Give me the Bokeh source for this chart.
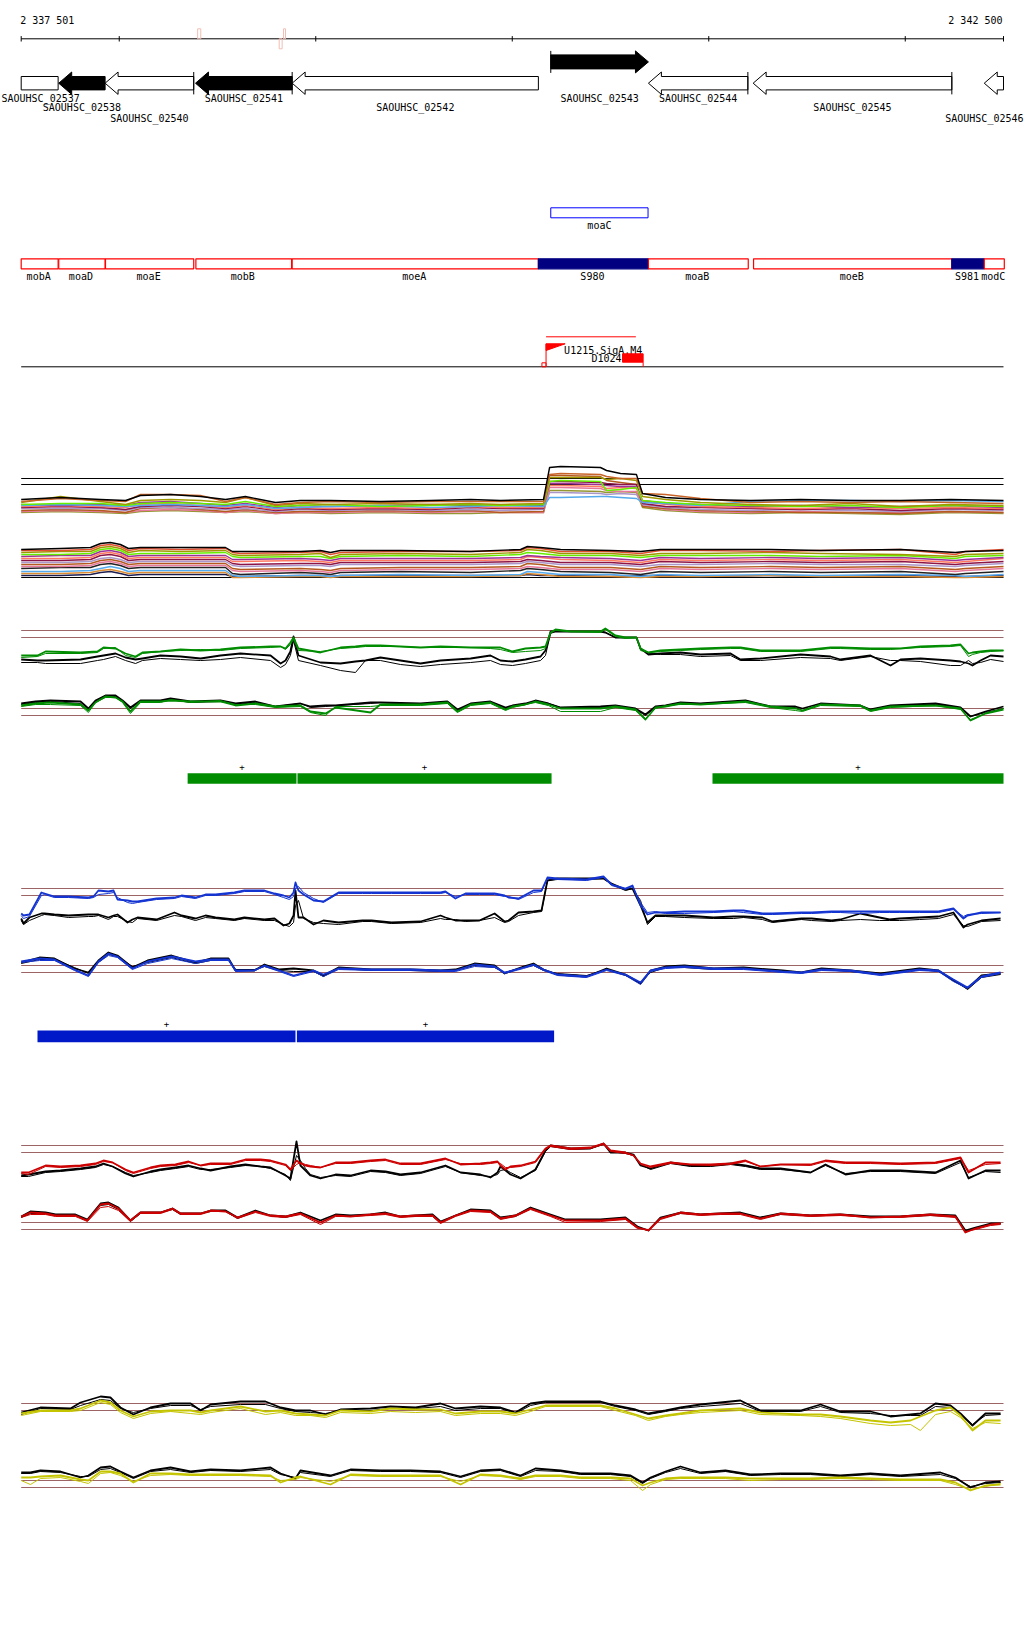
from bokeh.plotting import figure
from bokeh.models import Range1d
from bokeh.core.properties import value
from bokeh.embed import file_html
from bokeh.resources import INLINE

# ------------------------------------------------------------------ data
WINDOW_START = 2337501
WINDOW_END = 2342500
# positions below are bp offsets from WINDOW_START
ruler_ticks = [0, 499, 1499, 2499, 3499, 4499, 4999]
mark_start = [898, 1313, 1335]
mark_end = [914, 1328, 1345]
mark_side = [0, 1, 0]

gene_names = ["SAOUHSC_02537", "SAOUHSC_02538", "SAOUHSC_02540", "SAOUHSC_02541",
              "SAOUHSC_02542", "SAOUHSC_02543", "SAOUHSC_02544", "SAOUHSC_02545",
              "SAOUHSC_02546"]
gene_start = [0, 191, 427, 887, 1379, 2695, 3192, 3725, 4901]
gene_end = [188, 427, 878, 1379, 2632, 3192, 3698, 4736, 4999]
gene_strand = ["?", "-", "-", "-", "-", "+", "-", "-", "-"]
gene_filled = [0, 1, 0, 1, 0, 1, 0, 0, 0]
gene_tail_tick = [0, 0, 1, 1, 0, 1, 1, 1, 0]
gene_label_row = [0, 1, 2, 0, 1, 0, 0, 1, 2]

alt_names = ["moaC"]
alt_start = [2695]
alt_end = [3190]

tu_names = ["mobA", "moaD", "moaE", "mobB", "moeA", "S980", "moaB", "moeB", "S981", "modC"]
tu_start = [0, 191, 429, 889, 1379, 2632, 3192, 3727, 4736, 4901]
tu_end = [188, 427, 878, 1376, 2632, 3192, 3700, 4736, 4901, 5003]
tu_kind = ["gene", "gene", "gene", "gene", "gene", "srna", "gene", "gene", "srna", "gene"]

tss_names = ["U1215.SigA.M4"]
tss_pos = [2671]
tss_span_end = [3128]
term_names = ["D1024"]
term_start = [3060]
term_end = [3165]

green_seg_start = [847, 1406, 3518]
green_seg_end = [1401, 2699, 4999]
green_seg_strand = ["+", "+", "+"]
blue_seg_start = [83, 1403]
blue_seg_end = [1396, 2712]
blue_seg_strand = ["+", "+"]

# ---- multi-condition track (upper / lower panel)
mu_pos = [0, 200, 404, 531, 607, 760, 913, 1040, 1141, 1294, 1421, 1574, 1828, 2083, 2287, 2439,
          2658, 2689, 2745, 2948, 2979, 3050, 3131, 3162, 3279, 3457, 3711, 3966, 4220, 4475, 4729, 4999]
mu_l0 = [2.1, 2.3, 2.1, 2.0, 2.5, 2.6, 2.4, 2.1, 2.4, 1.8, 2.0, 2.0, 1.9, 2.0, 2.1, 2.0, 2.1, 5.3, 5.4, 5.3, 5.0, 4.7, 4.6, 2.7, 2.3, 2.1, 2.0, 2.1, 2.0, 2.0, 2.1, 2.0]
mu_l1 = [1.9, 2.2, 2.0, 1.9, 2.6, 2.6, 2.5, 1.9, 2.3, 1.6, 1.8, 1.9, 1.8, 1.9, 1.9, 1.9, 1.9, 4.6, 4.7, 4.6, 4.4, 4.2, 4.2, 2.7, 2.6, 2.2, 1.8, 1.9, 1.8, 1.9, 1.8, 1.7]
mu_l2 = [1.8, 2.4, 1.9, 1.6, 2.0, 2.1, 2.0, 1.8, 2.3, 1.5, 1.7, 1.6, 1.7, 1.6, 1.7, 1.6, 1.7, 4.3, 4.3, 4.3, 4.1, 4.2, 4.0, 2.4, 2.1, 1.8, 1.6, 1.5, 1.7, 1.4, 1.6, 1.5]
mu_l3 = [1.6, 1.7, 1.7, 1.5, 1.7, 1.8, 1.7, 1.6, 1.9, 1.4, 1.5, 1.6, 1.4, 1.5, 1.6, 1.5, 1.6, 3.9, 4.0, 3.9, 3.0, 3.1, 3.3, 2.0, 1.8, 1.6, 1.5, 1.4, 1.5, 1.3, 1.5, 1.4]
mu_l4 = [1.5, 1.6, 1.5, 1.4, 1.5, 1.6, 1.5, 1.4, 1.6, 1.2, 1.3, 1.4, 1.5, 1.3, 1.4, 1.5, 1.4, 2.3, 2.3, 2.4, 2.4, 2.3, 2.2, 1.8, 1.7, 1.5, 1.9, 2.0, 2.0, 1.9, 2.0, 1.9]
mu_l5 = [1.6, 1.5, 1.6, 1.5, 1.8, 1.9, 1.7, 1.5, 1.7, 1.3, 1.5, 1.4, 1.5, 1.6, 1.5, 1.5, 1.5, 3.7, 3.7, 3.6, 3.5, 3.4, 3.4, 2.0, 1.7, 1.6, 1.4, 1.5, 1.3, 1.4, 1.5, 1.3]
mu_l6 = [1.4, 1.5, 1.4, 1.3, 1.6, 1.7, 1.5, 1.3, 1.5, 1.1, 1.3, 1.2, 1.3, 1.2, 1.4, 1.3, 1.3, 3.5, 3.5, 3.4, 3.2, 3.3, 3.2, 1.9, 1.6, 1.4, 1.3, 1.2, 1.3, 1.2, 1.3, 1.2]
mu_l7 = [1.3, 1.4, 1.3, 1.1, 1.4, 1.5, 1.4, 1.2, 1.4, 1.0, 1.2, 1.1, 1.2, 1.1, 1.3, 1.2, 1.2, 3.9, 3.9, 3.8, 3.7, 3.6, 3.6, 1.7, 1.4, 1.3, 1.2, 1.1, 1.2, 1.0, 1.2, 1.1]
mu_l8 = [1.2, 1.2, 1.2, 1.0, 1.3, 1.3, 1.2, 1.1, 1.2, 0.9, 1.1, 1.0, 1.1, 1.0, 1.1, 1.0, 1.1, 2.8, 2.8, 2.7, 2.6, 2.7, 2.6, 1.6, 1.3, 1.1, 1.0, 1.1, 1.0, 0.9, 1.1, 1.0]
mu_l9 = [1.0, 1.1, 1.0, 0.8, 1.2, 1.3, 1.1, 0.9, 1.1, 0.8, 0.9, 0.9, 1.0, 0.9, 1.0, 0.8, 0.9, 4.5, 4.5, 4.4, 4.0, 3.8, 3.6, 1.4, 1.2, 1.0, 0.9, 0.8, 0.8, 0.7, 0.9, 0.8]
mu_l10 = [0.9, 1.0, 0.9, 0.8, 1.0, 1.1, 1.0, 0.8, 1.0, 0.7, 0.8, 0.8, 0.9, 0.8, 0.9, 0.8, 0.8, 3.3, 3.3, 3.2, 3.0, 2.9, 2.9, 1.5, 1.1, 0.9, 0.8, 0.9, 0.8, 0.8, 0.9, 0.8]
mu_l11 = [0.8, 0.9, 0.8, 0.7, 0.9, 1.0, 0.9, 0.8, 0.9, 0.7, 0.8, 0.7, 0.8, 0.7, 0.7, 0.8, 0.8, 3.0, 3.0, 2.9, 2.8, 2.9, 2.8, 1.3, 1.0, 0.8, 0.7, 0.8, 0.7, 0.6, 0.8, 0.7]
mu_thresholds = [4.2, 3.6]

ml_pos = [0, 200, 353, 404, 454, 505, 546, 607, 811, 1040, 1075, 1116, 1421, 1523, 1574, 1625, 1930,
          2287, 2541, 2576, 2643, 2745, 2999, 3152, 3253, 3457, 3813, 4068, 4475, 4754, 4805, 4999]
ml_l0 = [4.1, 4.2, 4.3, 4.7, 4.8, 4.6, 4.2, 4.3, 4.3, 4.3, 3.9, 3.9, 3.9, 4.0, 3.8, 4.0, 4.0, 3.9, 4.1, 4.4, 4.3, 4.1, 4.0, 3.9, 4.1, 4.1, 4.1, 4.0, 4.1, 3.8, 3.9, 4.0]
ml_l1 = [4.0, 4.0, 4.1, 4.5, 4.6, 4.4, 4.0, 4.2, 4.1, 4.2, 3.8, 3.7, 3.8, 3.9, 3.6, 3.8, 3.9, 3.9, 4.0, 4.3, 4.2, 3.9, 3.9, 3.7, 4.0, 4.0, 3.9, 4.0, 4.1, 3.6, 3.9, 4.1]
ml_l2 = [3.8, 3.9, 3.9, 4.3, 4.4, 4.2, 3.8, 4.0, 3.9, 4.0, 3.6, 3.5, 3.6, 3.7, 3.3, 3.6, 3.7, 3.6, 3.8, 4.1, 4.0, 3.7, 3.7, 3.5, 3.7, 3.7, 3.8, 3.7, 3.6, 3.4, 3.6, 3.7]
ml_l3 = [3.6, 3.6, 3.7, 4.1, 4.2, 4.0, 3.6, 3.7, 3.7, 3.8, 3.4, 3.3, 3.4, 3.4, 3.2, 3.4, 3.5, 3.4, 3.6, 3.8, 3.7, 3.5, 3.5, 3.3, 3.5, 3.5, 3.5, 3.4, 3.5, 3.2, 3.4, 3.5]
ml_l4 = [3.4, 3.5, 3.5, 3.9, 4.0, 3.8, 3.4, 3.5, 3.5, 3.5, 3.1, 3.1, 3.2, 3.1, 3.0, 3.2, 3.2, 3.2, 3.3, 3.5, 3.4, 3.3, 3.2, 3.0, 3.3, 3.2, 3.3, 3.2, 3.3, 3.0, 3.1, 3.3]
ml_l5 = [3.2, 3.2, 3.3, 3.7, 3.8, 3.6, 3.2, 3.3, 3.3, 3.3, 2.9, 2.9, 3.0, 2.9, 2.8, 3.0, 3.0, 3.0, 3.1, 3.4, 3.3, 3.1, 3.0, 2.8, 3.1, 3.0, 3.1, 3.0, 3.1, 2.8, 2.9, 3.2]
ml_l6 = [3.0, 3.0, 3.1, 3.5, 3.6, 3.4, 3.0, 3.1, 3.1, 3.1, 2.7, 2.6, 2.7, 2.7, 2.6, 2.8, 2.8, 2.8, 2.9, 3.1, 3.0, 2.8, 2.8, 2.6, 2.9, 2.8, 2.9, 2.8, 2.9, 2.6, 2.7, 2.9]
ml_l7 = [2.8, 2.8, 2.9, 3.2, 3.3, 3.1, 2.8, 2.9, 2.9, 2.9, 2.5, 2.4, 2.5, 2.5, 2.4, 2.6, 2.6, 2.6, 2.7, 2.9, 2.8, 2.6, 2.6, 2.4, 2.6, 2.6, 2.7, 2.6, 2.6, 2.4, 2.5, 2.7]
ml_l8 = [2.6, 2.6, 2.7, 3.0, 3.1, 2.9, 2.6, 2.7, 2.7, 2.7, 2.2, 2.1, 2.2, 2.1, 2.0, 2.2, 2.3, 2.3, 2.4, 2.7, 2.6, 2.3, 2.3, 2.1, 2.4, 2.3, 2.4, 2.3, 2.4, 2.1, 2.2, 2.4]
ml_l9 = [2.4, 2.4, 2.5, 2.8, 2.9, 2.7, 2.4, 2.5, 2.5, 2.5, 2.0, 1.9, 2.0, 1.9, 1.8, 2.0, 2.1, 2.1, 2.2, 2.4, 2.3, 2.1, 2.1, 1.9, 2.2, 2.1, 2.2, 2.1, 2.2, 1.9, 2.0, 2.2]
ml_l10 = [2.2, 2.3, 2.3, 2.6, 2.7, 2.5, 2.2, 2.3, 2.3, 2.3, 1.7, 1.6, 1.8, 1.7, 1.6, 1.8, 1.9, 1.8, 2.0, 2.2, 2.1, 1.9, 1.8, 1.6, 1.9, 1.8, 1.9, 1.8, 1.9, 1.6, 1.7, 1.9]
ml_l11 = [1.9, 1.9, 2.0, 2.2, 2.4, 2.2, 1.9, 2.0, 2.0, 2.0, 1.5, 1.4, 1.5, 1.5, 1.4, 1.5, 1.6, 1.5, 1.6, 1.9, 1.8, 1.6, 1.6, 1.4, 1.6, 1.5, 1.6, 1.5, 1.6, 1.5, 1.4, 1.6]
ml_l12 = [1.7, 1.7, 1.8, 2.0, 2.1, 1.9, 1.7, 1.8, 1.8, 1.8, 1.3, 1.3, 1.4, 1.4, 1.3, 1.4, 1.4, 1.4, 1.5, 1.7, 1.6, 1.4, 1.4, 1.3, 1.4, 1.4, 1.5, 1.4, 1.4, 1.3, 1.3, 1.4]
ml_l13 = [1.5, 1.5, 1.6, 1.8, 1.9, 1.7, 1.5, 1.6, 1.6, 1.6, 1.4, 1.4, 1.5, 1.5, 1.4, 1.5, 1.5, 1.5, 1.5, 1.6, 1.5, 1.5, 1.4, 1.5, 1.5, 1.4, 1.5, 1.4, 1.5, 1.4, 1.4, 1.5]
ml_thresholds = [1.3]

# ---- green track
gu_pos = [0, 83, 124, 302, 388, 419, 480, 531, 582, 617, 709, 811, 913, 1014, 1116, 1269, 1320, 1345, 1370, 1386,
          1411, 1523, 1625, 1701, 1752, 1828, 1930, 2032, 2134, 2287, 2388, 2439, 2500, 2566, 2643, 2668, 2694, 2719, 2796, 2948,
          2973, 3024, 3075, 3131, 3152, 3192, 3253, 3355, 3457, 3610, 3660, 3762, 3966, 4119, 4169, 4322, 4424, 4475, 4576, 4729,
          4780, 4821, 4841, 4882, 4933, 4999]
gu_black1 = [2.1, 2.0, 2.0, 2.1, 2.4, 2.5, 2.7, 2.3, 2.1, 2.2, 2.5, 2.4, 2.2, 2.5, 2.7, 2.5, 1.7, 2.0, 2.9, 4.4,
             2.5, 1.8, 1.7, 1.9, 2.0, 2.3, 2.0, 1.7, 2.0, 2.2, 2.5, 2.0, 1.9, 2.1, 2.4, 3.0, 4.9, 4.9, 4.9, 4.9,
             4.8, 4.3, 4.3, 4.3, 3.2, 2.6, 2.7, 2.8, 2.6, 2.7, 2.1, 2.2, 2.6, 2.4, 2.1, 2.5, 1.5, 2.1, 2.2, 2.0,
             1.9, 1.7, 1.5, 2.0, 2.5, 2.4]
gu_black2 = [1.8, 1.8, 1.7, 1.7, 2.0, 2.1, 2.4, 2.0, 1.7, 2.0, 2.2, 2.1, 2.0, 2.1, 2.3, 2.0, 1.3, 1.6, 2.5, 4.0,
             2.0, 1.5, 1.0, 0.8, 2.0, 2.0, 1.6, 1.4, 1.6, 1.8, 2.0, 1.6, 1.5, 1.7, 2.0, 2.5, 4.7, 4.9, 4.9, 4.9,
             4.8, 4.3, 4.3, 4.3, 3.1, 2.7, 2.6, 2.6, 2.4, 2.5, 2.0, 2.0, 2.3, 2.2, 2.0, 2.4, 2.0, 2.0, 1.9, 1.5,
             1.5, 2.0, 1.7, 1.8, 2.1, 1.9]
gu_green1 = [2.5, 2.5, 2.9, 2.8, 2.9, 3.3, 3.2, 2.7, 2.4, 2.8, 2.9, 3.1, 3.0, 3.1, 3.3, 3.4, 3.4, 3.2, 3.8, 4.3,
             3.2, 2.8, 3.3, 3.4, 3.5, 3.5, 3.4, 3.3, 3.4, 3.3, 3.3, 3.3, 2.9, 3.2, 3.3, 3.4, 4.8, 5.1, 4.9, 4.9,
             5.2, 4.5, 4.3, 4.3, 3.2, 2.8, 3.0, 3.1, 3.2, 3.3, 3.3, 3.0, 3.0, 3.3, 3.3, 3.2, 3.2, 3.2, 3.4, 3.5,
             3.6, 2.7, 2.8, 2.9, 3.0, 3.0]
gu_green2 = [2.3, 2.4, 2.7, 2.7, 2.8, 3.2, 3.3, 2.5, 2.3, 2.7, 2.9, 3.0, 3.1, 3.0, 3.2, 3.3, 3.4, 3.1, 3.6, 4.1,
             3.0, 2.9, 3.2, 3.3, 3.4, 3.4, 3.4, 3.3, 3.3, 3.3, 3.2, 3.1, 2.8, 2.9, 3.0, 3.2, 4.8, 5.0, 4.9, 4.8,
             5.1, 4.4, 4.2, 4.3, 3.0, 2.8, 2.9, 3.0, 3.1, 3.2, 3.2, 2.9, 2.9, 3.2, 3.2, 3.1, 3.1, 3.2, 3.3, 3.4,
             3.5, 2.4, 2.6, 2.8, 2.9, 3.0]
gu_thresholds = [5.0, 4.3]

gl_pos = [0, 73, 149, 302, 342, 378, 429, 480, 516, 556, 607, 709, 760, 862, 1014, 1091, 1192, 1294, 1421, 1472,
          1549, 1600, 1778, 1828, 2032, 2169, 2220, 2287, 2388, 2465, 2500, 2566, 2617, 2683, 2745, 2948, 3024, 3126, 3177, 3228,
          3279, 3355, 3457, 3686, 3813, 3940, 3976, 4068, 4271, 4322, 4424, 4653, 4780, 4831, 4907, 4999]
gl_black1 = [2.7, 2.9, 3.0, 2.9, 2.2, 3.0, 3.5, 3.5, 3.0, 2.3, 3.0, 3.0, 3.2, 2.9, 3.0, 2.7, 2.9, 2.4, 2.7, 2.4,
             2.5, 2.5, 2.8, 2.8, 2.7, 2.9, 2.1, 2.7, 2.9, 2.3, 2.5, 2.7, 3.0, 2.7, 2.3, 2.4, 2.5, 2.2, 1.6, 2.4,
             2.5, 2.8, 2.7, 3.0, 2.4, 2.4, 2.2, 2.7, 2.5, 2.1, 2.5, 2.7, 2.3, 1.4, 1.9, 2.4]
gl_black2 = [2.6, 2.8, 2.9, 2.7, 2.0, 2.9, 3.5, 3.4, 2.9, 2.2, 2.9, 3.0, 3.1, 2.8, 2.9, 2.6, 2.8, 2.4, 2.7, 2.3,
             2.4, 2.5, 2.7, 2.8, 2.6, 2.8, 2.0, 2.6, 2.8, 2.2, 2.4, 2.6, 2.9, 2.7, 2.3, 2.3, 2.5, 2.1, 1.5, 2.3,
             2.4, 2.7, 2.7, 2.9, 2.4, 2.3, 2.0, 2.6, 2.5, 2.0, 2.4, 2.6, 2.2, 1.4, 1.8, 2.2]
gl_green1 = [2.5, 2.7, 2.8, 2.6, 2.0, 2.8, 3.4, 3.3, 2.9, 1.9, 2.9, 2.9, 3.0, 2.9, 2.9, 2.5, 2.7, 2.4, 2.5, 1.9,
             1.7, 2.3, 1.8, 2.6, 2.6, 2.8, 1.9, 2.6, 2.8, 2.1, 2.4, 2.6, 2.9, 2.6, 2.2, 2.2, 2.4, 2.1, 1.1, 2.3,
             2.4, 2.7, 2.6, 2.9, 2.4, 2.2, 2.0, 2.6, 2.5, 2.0, 2.4, 2.5, 2.2, 1.0, 1.7, 2.1]
gl_green2 = [2.4, 2.6, 2.6, 2.5, 1.8, 2.8, 3.3, 3.3, 2.8, 1.7, 2.8, 2.8, 3.1, 2.8, 3.0, 2.6, 2.6, 2.3, 2.4, 1.8,
             1.5, 2.4, 2.4, 2.5, 2.5, 2.7, 1.8, 2.5, 2.7, 2.0, 2.3, 2.6, 2.8, 2.5, 1.9, 1.9, 2.3, 2.0, 1.2, 2.2,
             2.5, 2.6, 2.6, 2.8, 2.3, 2.0, 1.9, 2.5, 2.4, 1.9, 2.3, 2.5, 2.1, 1.1, 1.7, 2.2]
gl_thresholds = [2.2, 1.5]

# ---- blue track
bu_pos = [0, 12, 42, 103, 119, 169, 241, 342, 368, 393, 444, 470, 490, 541, 566, 592, 689, 780, 816, 887,
          938, 989, 1085, 1136, 1238, 1289, 1335, 1365, 1386, 1396, 1411, 1437, 1488, 1538, 1615, 1737, 1783, 1884, 2032, 2134,
          2159, 2210, 2261, 2332, 2409, 2460, 2480, 2531, 2607, 2648, 2678, 2729, 2877, 2963, 3004, 3075, 3111, 3152, 3187, 3228,
          3279, 3376, 3523, 3625, 3676, 3772, 3823, 3971, 4022, 4124, 4169, 4271, 4368, 4419, 4470, 4571, 4668, 4744, 4795, 4816,
          4887, 4984]
bu_blue1 = [2.7, 2.5, 2.6, 4.8, 4.7, 4.4, 4.4, 4.3, 4.4, 5.0, 4.9, 5.0, 4.1, 4.0, 3.9, 3.9, 4.2, 4.3, 4.5, 4.3,
            4.6, 4.6, 4.8, 5.0, 5.0, 4.7, 4.5, 4.3, 4.8, 5.8, 5.0, 4.6, 4.0, 3.9, 4.8, 4.8, 4.8, 4.8, 4.8, 4.8,
            4.9, 4.2, 4.7, 4.7, 4.7, 4.5, 4.3, 4.2, 5.0, 5.0, 6.3, 6.2, 6.1, 6.4, 5.6, 5.2, 5.5, 3.5, 2.6, 2.8,
            2.8, 2.9, 2.9, 3.0, 3.0, 2.7, 2.7, 2.8, 2.8, 2.9, 2.9, 2.9, 2.9, 2.9, 2.9, 2.9, 2.9, 3.2, 2.2, 2.5,
            2.8, 2.8]
bu_blue2 = [2.5, 2.2, 2.4, 4.5, 4.6, 4.3, 4.3, 4.2, 4.3, 4.6, 4.7, 4.8, 4.3, 3.8, 3.7, 3.8, 4.1, 4.2, 4.4, 4.2,
            4.5, 4.5, 4.7, 4.9, 4.9, 4.6, 4.3, 4.1, 4.4, 5.2, 5.4, 4.8, 4.2, 3.8, 4.7, 4.7, 4.7, 4.7, 4.7, 4.7,
            4.8, 4.4, 4.6, 4.6, 4.6, 4.4, 4.4, 4.1, 4.8, 4.9, 6.2, 6.1, 6.0, 6.3, 5.5, 5.1, 5.4, 3.8, 2.8, 2.9,
            2.7, 2.7, 2.8, 2.9, 2.8, 2.6, 2.6, 2.7, 2.7, 2.8, 2.8, 2.7, 2.8, 2.8, 2.8, 2.8, 2.8, 3.1, 2.4, 2.6,
            2.7, 2.8]
bu_black1 = [2.2, 1.7, 2.3, 2.7, 2.7, 2.6, 2.5, 2.6, 2.6, 2.6, 2.3, 2.5, 2.6, 1.8, 2.1, 2.3, 2.1, 2.8, 2.5, 2.2,
             2.5, 2.3, 2.1, 2.3, 2.1, 2.2, 1.5, 1.7, 2.5, 5.0, 2.3, 2.3, 1.6, 2.0, 1.8, 2.0, 2.0, 1.8, 1.9, 2.5,
             2.3, 2.0, 2.0, 2.0, 2.7, 1.9, 2.0, 2.8, 2.9, 3.0, 6.0, 6.2, 6.2, 6.2, 5.7, 5.1, 5.2, 3.5, 1.8, 2.5,
             2.5, 2.5, 2.3, 2.4, 2.4, 2.3, 1.9, 2.2, 2.2, 2.0, 2.1, 2.7, 2.3, 2.1, 2.2, 2.3, 2.4, 2.8, 1.3, 1.6,
             2.0, 2.2]
bu_black2 = [2.0, 1.6, 2.0, 2.5, 2.6, 2.5, 2.3, 2.4, 2.4, 2.5, 2.1, 2.4, 2.4, 1.9, 1.8, 2.2, 2.0, 2.5, 2.4, 2.0,
             2.3, 2.2, 2.0, 2.2, 2.0, 2.0, 1.6, 1.4, 1.8, 3.5, 4.0, 2.2, 1.8, 1.7, 1.6, 1.9, 1.9, 1.7, 1.8, 2.2,
             2.1, 2.1, 1.9, 2.0, 2.3, 1.8, 1.9, 2.5, 2.8, 2.9, 6.0, 6.1, 6.1, 6.2, 5.6, 5.0, 5.2, 4.0, 1.6, 2.4,
             2.4, 2.3, 2.2, 2.2, 2.3, 2.1, 1.8, 2.1, 2.0, 1.9, 2.0, 2.1, 2.0, 2.0, 2.0, 2.1, 2.2, 2.6, 1.5, 1.4,
             1.9, 2.0]
bu_thresholds = [5.2, 4.5]

bl_pos = [0, 93, 169, 271, 342, 393, 444, 490, 566, 643, 765, 887, 963, 1055, 1091, 1187, 1238, 1314, 1386, 1488,
          1538, 1615, 1783, 1981, 2134, 2210, 2307, 2409, 2460, 2556, 2607, 2658, 2729, 2877, 2979, 3075, 3152, 3203, 3279, 3376,
          3523, 3676, 3874, 3971, 4073, 4220, 4373, 4571, 4668, 4744, 4816, 4887, 4984]
bl_black1 = [3.8, 4.3, 4.2, 3.2, 2.8, 4.0, 4.8, 4.5, 3.3, 4.0, 4.5, 3.8, 4.2, 4.2, 3.0, 3.0, 3.6, 3.1, 3.2, 3.0,
             2.5, 3.3, 3.1, 3.1, 3.0, 3.1, 3.7, 3.5, 2.7, 3.4, 3.7, 3.1, 2.6, 2.4, 3.2, 2.6, 1.7, 3.0, 3.4, 3.5,
             3.2, 3.3, 3.0, 2.8, 3.2, 3.0, 2.7, 3.2, 3.0, 2.0, 1.2, 2.5, 2.7]
bl_black2 = [3.7, 4.1, 4.1, 3.3, 2.7, 3.8, 4.6, 4.4, 3.4, 3.8, 4.3, 3.7, 4.0, 4.1, 3.1, 3.1, 3.4, 3.0, 2.9, 2.9,
             2.4, 3.2, 3.0, 3.0, 2.9, 3.0, 3.5, 3.3, 2.8, 3.3, 3.5, 3.0, 2.7, 2.5, 3.1, 2.5, 1.8, 2.8, 3.3, 3.3,
             3.1, 3.2, 2.9, 2.8, 3.1, 2.9, 2.6, 3.1, 2.9, 2.1, 1.1, 2.3, 2.6]
bl_blue1 = [3.9, 4.2, 4.1, 3.1, 2.5, 3.9, 4.7, 4.4, 3.2, 3.9, 4.4, 3.9, 4.1, 4.1, 3.0, 3.0, 3.5, 3.0, 2.5, 3.0,
            2.6, 3.2, 3.1, 3.1, 3.0, 3.0, 3.6, 3.4, 2.8, 3.3, 3.6, 3.1, 2.6, 2.4, 3.1, 2.6, 1.8, 3.0, 3.3, 3.4,
            3.2, 3.2, 2.9, 2.8, 3.1, 3.0, 2.6, 3.1, 3.0, 2.1, 1.3, 2.4, 2.8]
bl_blue2 = [3.8, 4.0, 4.0, 3.0, 2.4, 3.8, 4.5, 4.3, 3.1, 3.7, 4.2, 3.7, 4.0, 4.0, 2.9, 3.0, 3.4, 2.9, 2.4, 2.9,
            2.4, 3.1, 3.0, 3.0, 2.9, 2.9, 3.4, 3.3, 2.7, 3.2, 3.5, 3.0, 2.5, 2.3, 3.0, 2.5, 1.6, 2.9, 3.2, 3.3,
            3.1, 3.1, 2.8, 2.7, 3.0, 2.9, 2.5, 3.0, 2.9, 1.9, 1.2, 2.3, 2.7]
bl_thresholds = [3.5, 2.8]

# ---- red track
ru_pos = [0, 37, 124, 200, 302, 378, 419, 465, 531, 571, 658, 709, 785, 852, 913, 964, 1065, 1141, 1218, 1269,
          1345, 1370, 1401, 1421, 1447, 1472, 1523, 1600, 1676, 1778, 1854, 1930, 2032, 2159, 2236, 2337, 2388, 2424, 2439, 2465,
          2490, 2541, 2617, 2668, 2694, 2796, 2897, 2963, 2999, 3075, 3116, 3152, 3203, 3304, 3406, 3508, 3610, 3686, 3762, 3864,
          4017, 4093, 4195, 4322, 4475, 4653, 4780, 4821, 4907, 4984]
ru_red1 = [1.8, 1.8, 2.5, 2.4, 2.5, 2.7, 3.0, 2.8, 2.1, 1.8, 2.3, 2.5, 2.6, 2.9, 2.5, 2.7, 2.7, 3.1, 3.1, 3.0,
           2.6, 2.1, 3.0, 2.7, 2.5, 2.4, 2.3, 2.8, 2.8, 3.0, 3.1, 2.7, 2.7, 3.2, 2.6, 2.7, 2.8, 2.9, 2.5, 2.1,
           2.4, 2.5, 2.9, 4.2, 4.5, 4.2, 4.3, 4.7, 4.0, 3.8, 3.5, 2.7, 2.4, 2.8, 2.6, 2.6, 2.7, 3.0, 2.4, 2.6,
           2.6, 3.0, 2.8, 2.8, 2.7, 2.8, 3.3, 1.8, 2.8, 2.8]
ru_red2 = [1.7, 1.6, 2.4, 2.3, 2.4, 2.6, 2.9, 2.8, 2.0, 1.7, 2.2, 2.4, 2.5, 2.8, 2.5, 2.6, 2.6, 3.0, 3.0, 2.9,
           2.5, 2.0, 2.6, 2.8, 2.6, 2.5, 2.3, 2.7, 2.7, 2.9, 3.0, 2.6, 2.6, 3.1, 2.7, 2.6, 2.7, 2.8, 2.7, 2.3,
           2.3, 2.4, 2.8, 4.1, 4.4, 4.1, 4.2, 4.6, 3.9, 3.7, 3.5, 2.6, 2.3, 2.7, 2.6, 2.5, 2.6, 2.9, 2.4, 2.6,
           2.5, 2.9, 2.7, 2.7, 2.6, 2.7, 3.2, 2.0, 2.6, 2.7]
ru_black1 = [1.5, 1.6, 1.9, 2.0, 2.2, 2.4, 2.7, 2.4, 1.7, 1.4, 1.9, 2.1, 2.3, 2.5, 2.2, 2.0, 2.4, 2.6, 2.4, 2.3,
             1.5, 1.2, 4.9, 2.5, 2.0, 1.5, 1.2, 1.6, 1.5, 2.0, 1.9, 1.6, 1.8, 2.5, 1.8, 1.6, 1.3, 1.8, 2.4, 2.0,
             1.6, 1.2, 2.1, 4.0, 4.5, 4.2, 4.2, 4.7, 3.8, 3.8, 3.6, 2.5, 2.2, 2.8, 2.5, 2.5, 2.7, 2.5, 2.2, 2.2,
             1.8, 2.6, 1.6, 2.0, 2.0, 1.8, 3.0, 1.2, 2.0, 2.0]
ru_black2 = [1.4, 1.4, 1.8, 1.9, 2.1, 2.3, 2.6, 2.4, 1.8, 1.5, 1.8, 2.0, 2.2, 2.4, 2.1, 2.1, 2.3, 2.5, 2.4, 2.2,
             1.6, 1.0, 3.5, 3.0, 2.2, 1.6, 1.3, 1.5, 1.4, 1.9, 1.8, 1.5, 1.7, 2.4, 1.8, 1.5, 1.4, 1.6, 2.0, 2.1,
             1.8, 1.3, 2.0, 3.9, 4.4, 4.1, 4.2, 4.6, 3.9, 3.7, 3.5, 2.6, 2.1, 2.7, 2.4, 2.4, 2.6, 2.4, 2.1, 2.1,
             1.8, 2.5, 1.7, 1.9, 1.9, 1.7, 2.8, 1.3, 1.9, 1.8]
ru_thresholds = [4.5, 3.8]

rl_pos = [0, 47, 124, 175, 276, 337, 404, 444, 495, 556, 607, 709, 770, 811, 913, 964, 1040, 1101, 1192, 1269,
          1345, 1421, 1523, 1600, 1676, 1778, 1854, 1930, 2007, 2093, 2134, 2210, 2287, 2388, 2439, 2515, 2592, 2694, 2770, 2948,
          3075, 3136, 3192, 3253, 3355, 3457, 3559, 3660, 3762, 3864, 4017, 4169, 4322, 4475, 4627, 4754, 4805, 4856, 4933, 4984]
rl_red1 = [2.4, 2.8, 2.7, 2.5, 2.5, 2.0, 3.6, 3.7, 3.2, 2.0, 2.8, 2.8, 3.2, 2.7, 2.7, 3.0, 2.9, 2.3, 2.9, 2.5,
           2.4, 2.7, 1.8, 2.5, 2.4, 2.6, 2.7, 2.4, 2.5, 2.5, 1.8, 2.5, 3.0, 2.9, 2.2, 2.5, 3.2, 2.5, 2.0, 2.0,
           2.2, 1.3, 1.0, 2.2, 2.8, 2.6, 2.7, 2.7, 2.2, 2.7, 2.5, 2.6, 2.3, 2.4, 2.6, 2.4, 0.8, 1.2, 1.6, 1.7]
rl_red2 = [2.3, 2.6, 2.6, 2.4, 2.4, 1.9, 3.3, 3.4, 3.0, 1.9, 2.7, 2.7, 3.1, 2.6, 2.6, 2.9, 2.9, 2.2, 2.8, 2.4,
           2.3, 2.6, 1.6, 2.4, 2.4, 2.5, 2.6, 2.3, 2.4, 2.4, 1.7, 2.4, 2.9, 2.8, 2.1, 2.4, 3.1, 2.4, 1.8, 1.9,
           2.1, 1.2, 1.1, 2.1, 2.7, 2.5, 2.6, 2.6, 2.1, 2.6, 2.4, 2.5, 2.3, 2.3, 2.5, 2.3, 0.9, 1.1, 1.5, 1.6]
rl_black1 = [2.4, 2.9, 2.8, 2.6, 2.6, 2.1, 3.7, 3.8, 3.3, 2.0, 2.8, 2.8, 3.2, 2.7, 2.7, 3.0, 3.0, 2.3, 3.0, 2.5,
             2.4, 2.8, 2.0, 2.6, 2.5, 2.6, 2.8, 2.4, 2.5, 2.6, 1.9, 2.5, 3.1, 3.0, 2.3, 2.5, 3.3, 2.6, 2.1, 2.1,
             2.3, 1.4, 1.0, 2.3, 2.8, 2.6, 2.7, 2.8, 2.3, 2.7, 2.5, 2.6, 2.4, 2.4, 2.6, 2.5, 1.0, 1.3, 1.7, 1.7]
rl_black2 = [2.3, 2.7, 2.7, 2.5, 2.5, 2.0, 3.5, 3.6, 3.1, 1.9, 2.7, 2.8, 3.1, 2.6, 2.7, 2.9, 2.9, 2.2, 2.9, 2.5,
             2.3, 2.7, 1.8, 2.5, 2.4, 2.6, 2.7, 2.4, 2.4, 2.5, 1.8, 2.5, 3.0, 2.9, 2.2, 2.4, 3.2, 2.5, 2.0, 2.0,
             2.2, 1.3, 1.0, 2.2, 2.7, 2.6, 2.7, 2.7, 2.2, 2.6, 2.5, 2.6, 2.3, 2.4, 2.5, 2.4, 0.9, 1.2, 1.6, 1.7]
rl_thresholds = [1.8, 1.1]

# ---- yellow track
yu_pos = [0, 98, 251, 302, 404, 454, 505, 571, 658, 760, 862, 913, 964, 1116, 1243, 1320, 1396, 1472, 1549, 1625,
          1778, 1879, 2007, 2134, 2210, 2337, 2439, 2515, 2592, 2668, 2948, 3024, 3126, 3192, 3279, 3355, 3457, 3660, 3762, 3966,
          4068, 4169, 4322, 4424, 4526, 4576, 4653, 4729, 4780, 4841, 4907, 4984]
yu_black1 = [2.8, 3.3, 3.2, 3.8, 4.4, 4.3, 3.3, 2.6, 3.3, 3.7, 3.7, 3.0, 3.6, 3.9, 3.9, 3.3, 3.0, 3.0, 2.6, 3.1,
             3.2, 3.4, 3.3, 3.7, 3.2, 3.4, 3.3, 2.8, 3.7, 3.9, 3.9, 3.5, 3.1, 2.7, 3.0, 3.3, 3.6, 4.0, 3.0, 3.0,
             3.6, 2.9, 2.9, 2.4, 2.6, 2.7, 3.7, 3.5, 2.7, 1.5, 2.7, 2.7]
yu_black2 = [2.6, 3.2, 3.1, 3.5, 4.1, 4.0, 3.2, 2.8, 3.2, 3.5, 3.5, 3.1, 3.4, 3.6, 3.6, 3.2, 2.9, 2.8, 2.7, 3.0,
             3.0, 3.2, 3.2, 3.4, 3.0, 3.2, 3.2, 2.7, 3.5, 3.8, 3.8, 3.4, 3.0, 2.6, 2.9, 3.2, 3.4, 3.7, 2.9, 2.9,
             3.4, 2.8, 2.7, 2.5, 2.5, 2.5, 3.4, 3.3, 2.6, 1.6, 2.5, 2.6]
yu_yellow1 = [2.7, 3.0, 3.0, 3.2, 4.0, 3.8, 3.0, 2.4, 2.9, 3.0, 3.0, 2.8, 3.0, 3.4, 2.9, 3.0, 2.7, 2.6, 2.5, 3.0,
              2.9, 3.2, 3.1, 3.1, 2.7, 2.9, 2.9, 2.7, 3.1, 3.5, 3.5, 3.2, 2.6, 2.2, 2.5, 2.7, 3.0, 3.2, 2.8, 2.6,
              2.6, 2.4, 2.0, 1.8, 2.0, 2.4, 3.0, 3.3, 2.5, 1.0, 2.0, 2.0]
yu_yellow2 = [2.5, 2.9, 2.9, 3.0, 3.8, 3.6, 2.8, 2.2, 2.7, 2.9, 2.7, 2.6, 2.8, 3.2, 2.6, 2.8, 2.5, 2.5, 2.3, 2.8,
              2.7, 2.9, 2.8, 2.9, 2.5, 2.7, 2.7, 2.5, 2.9, 3.4, 3.4, 3.0, 2.5, 2.0, 2.4, 2.6, 2.8, 3.0, 2.6, 2.5,
              2.4, 2.2, 1.7, 1.5, 1.6, 1.0, 2.6, 2.9, 2.3, 1.2, 1.8, 1.7]
yu_thresholds = [3.7, 3.0]

yl_pos = [0, 47, 98, 200, 302, 342, 404, 454, 505, 571, 658, 760, 862, 964, 1116, 1269, 1320, 1396, 1421, 1574,
          1676, 1828, 1981, 2134, 2236, 2337, 2439, 2541, 2617, 2745, 2846, 2999, 3101, 3162, 3203, 3279, 3355, 3457, 3584, 3711,
          3864, 4017, 4169, 4322, 4475, 4678, 4754, 4831, 4907, 4984]
yl_black1 = [2.8, 2.8, 3.0, 2.9, 2.3, 2.5, 3.3, 3.4, 2.9, 2.3, 3.0, 3.3, 2.9, 3.1, 3.0, 3.3, 2.7, 2.2, 3.0, 2.5,
             3.1, 3.0, 3.0, 2.9, 2.4, 3.0, 3.1, 2.5, 3.2, 3.0, 2.7, 2.7, 2.5, 1.8, 2.3, 2.9, 3.4, 2.8, 3.0, 2.6,
             2.7, 2.7, 2.5, 2.7, 2.5, 2.8, 2.3, 1.3, 1.8, 1.9]
yl_black2 = [2.7, 2.7, 2.9, 2.8, 2.4, 2.4, 3.1, 3.2, 2.8, 2.2, 2.9, 3.1, 2.8, 3.0, 2.9, 3.1, 2.6, 2.3, 2.8, 2.4,
             3.0, 2.9, 2.9, 2.8, 2.3, 2.9, 3.0, 2.4, 3.0, 2.9, 2.6, 2.6, 2.4, 1.7, 2.2, 2.8, 3.2, 2.7, 2.9, 2.5,
             2.6, 2.6, 2.4, 2.6, 2.4, 2.6, 2.2, 1.4, 1.7, 1.8]
yl_yellow1 = [2.3, 2.3, 2.4, 2.5, 2.1, 2.0, 2.9, 2.9, 2.7, 1.8, 2.7, 2.7, 2.6, 2.6, 2.6, 2.5, 1.8, 2.3, 2.4, 1.6,
              2.6, 2.5, 2.5, 2.5, 1.6, 2.6, 2.5, 2.2, 2.5, 2.5, 2.3, 2.3, 2.2, 1.5, 1.8, 2.2, 2.3, 2.3, 2.3, 2.2,
              2.2, 2.2, 2.3, 2.2, 2.1, 2.1, 1.8, 1.0, 1.5, 1.6]
yl_yellow2 = [2.0, 1.6, 2.2, 2.3, 1.9, 1.7, 2.7, 2.8, 2.5, 1.9, 2.5, 2.6, 2.5, 2.5, 2.5, 2.4, 2.0, 2.1, 2.3, 1.9,
              2.5, 2.4, 2.4, 2.4, 1.9, 2.5, 2.4, 2.1, 2.4, 2.4, 2.2, 2.2, 2.0, 1.0, 1.6, 2.1, 2.2, 2.2, 2.2, 2.0,
              2.1, 2.1, 2.2, 2.1, 2.0, 2.0, 1.6, 1.1, 1.4, 1.7]
yl_thresholds = [2.0, 1.3]

# ------------------------------------------------------------------ styling / layout
FONT = value("DejaVu Sans Mono")
FS = "10px"
CHAR_W = 6.02
GREEN = "#008c00"
BLUE = "#1434d2"
RED = "#cc0000"
YELLOW = "#c4c400"
BROWN = "#9c6464"
NAVY = "#000080"
BAR_GREEN = "#008c00"
BAR_BLUE = "#0018c8"
MU_COLORS = ["#000000", "#c8642a", "#a09600", "#66ee00", "#55aaee", "#9b3296",
             "#ff7860", "#8c1446", "#aa96c8", "#b45a1e", "#e6789b", "#969632"]
ML_COLORS = ["#000000", "#e05030", "#a09600", "#66ee00", "#9b3296", "#ff7860", "#8c1446",
             "#aa96c8", "#b45a1e", "#e6789b", "#222222", "#55aaee", "#dc8c32", "#1e1e50"]

W, H = 1024, 1640
PX_PER_UNIT = 10.0
X_LO, X_HI = -105.3, 5105.8
BP_PER_PX = (X_HI - X_LO) / W
panel_base = {"mu": 520, "ml": 590, "gu": 680, "gl": 730, "bu": 940,
              "bl": 1000, "ru": 1190, "rl": 1240, "yu": 1440, "yl": 1500}

SPAN = WINDOW_END - WINDOW_START
p = figure(width=W, height=H, x_range=Range1d(X_LO, X_HI), y_range=Range1d(H, 0),
           output_backend="svg", toolbar_location=None, min_border=0,
           x_axis_type=None, y_axis_type=None, outline_line_color=None,
           background_fill_color="white", border_fill_color="white")
p.extra_y_ranges = {k: Range1d(start=(b - H) / PX_PER_UNIT, end=b / PX_PER_UNIT)
                    for k, b in panel_base.items()}


def txt(xs, ys, texts, align="center", x_offset=0, color="black", size=FS):
    p.text(x=xs, y=ys, text=texts, text_font=FONT, text_font_size=size, text_align=align,
           text_baseline="middle", text_color=color, x_offset=x_offset)


def fmt(n):
    return f"{n:,}".replace(",", " ")


def clamp_center(c, label):
    half = (len(label) * CHAR_W / 2 + 1) * BP_PER_PX
    return min(max(c, X_LO + half), X_HI - half)


# ---- ruler
RULER_Y = 38.3
p.segment(x0=[0], y0=[RULER_Y], x1=[SPAN], y1=[RULER_Y], line_color="black", line_width=1)
n = len(ruler_ticks)
p.segment(x0=ruler_ticks, y0=[RULER_Y - 2.7] * n, x1=ruler_ticks, y1=[RULER_Y + 2.7] * n,
          line_color="black", line_width=1)
txt([0], [20], [fmt(WINDOW_START)], align="left", x_offset=-1)
txt([SPAN], [20], [fmt(WINDOW_END)], align="right", x_offset=-1)
p.quad(left=mark_start, right=mark_end,
       top=[RULER_Y - 10 if s == 0 else RULER_Y for s in mark_side],
       bottom=[RULER_Y if s == 0 else RULER_Y + 10 for s in mark_side],
       fill_color=None, line_color="#f2beb4", line_width=1)

# ---- genes
HEAD = 66
gx, gy, gfill, tick_x, tick_y0, tick_y1 = [], [], [], [], [], []
for i in range(len(gene_names)):
    s, e, st = gene_start[i], gene_end[i], gene_strand[i]
    if st == "+":
        mid, bh, hh = 61.4, 7.0, 11.0
        xs = [e, e - HEAD, e - HEAD, s, s, e - HEAD, e - HEAD]
        ys = [mid, mid - hh, mid - bh, mid - bh, mid + bh, mid + bh, mid + hh]
        tx = s
    elif st == "-":
        mid, bh, hh = 82.7, 6.7, 11.2
        xs = [s, s + HEAD, s + HEAD, e, e, s + HEAD, s + HEAD]
        ys = [mid, mid - hh, mid - bh, mid - bh, mid + bh, mid + bh, mid + hh]
        tx = e
    else:
        mid, bh, hh = 82.7, 6.7, 11.2
        xs = [s, e, e, s]
        ys = [mid - bh, mid - bh, mid + bh, mid + bh]
        tx = e
    gx.append(xs)
    gy.append(ys)
    gfill.append("black" if gene_filled[i] else "white")
    if gene_tail_tick[i]:
        tick_x.append(tx)
        tick_y0.append(mid - hh)
        tick_y1.append(mid + hh)
p.patches(gx, gy, fill_color=gfill, line_color="black", line_width=1)
p.segment(x0=tick_x, y0=tick_y0, x1=tick_x, y1=tick_y1, line_color="black", line_width=1)
label_rows = [97.5, 106.5, 117.5]
txt([clamp_center((s + e) / 2, nm) for s, e, nm in zip(gene_start, gene_end, gene_names)],
    [label_rows[r] for r in gene_label_row], gene_names)

# ---- transcription units
p.quad(left=alt_start, right=alt_end, top=[207.3] * len(alt_start), bottom=[217.3] * len(alt_start),
       fill_color=None, line_color="#0000ff", line_width=1)
txt([(s + e) / 2 for s, e in zip(alt_start, alt_end)], [224.5] * len(alt_start), alt_names)
nt = len(tu_names)
p.quad(left=tu_start, right=tu_end, top=[258.3] * nt, bottom=[268.3] * nt,
       fill_color=[NAVY if k == "srna" else "white" for k in tu_kind],
       line_color=[NAVY if k == "srna" else "#ff0000" for k in tu_kind], line_width=1.2)
txt([(s + e) / 2 for s, e in zip(tu_start, tu_end)], [275.5] * nt, tu_names, x_offset=-1)

# ---- promoter / terminator
FLAG = 97
p.segment(x0=[0], y0=[366.3], x1=[SPAN], y1=[366.3], line_color="black", line_width=1)
p.segment(x0=tss_pos, y0=[336.3] * len(tss_pos), x1=tss_span_end, y1=[336.3] * len(tss_pos),
          line_color="#ff0000", line_width=1)
p.segment(x0=tss_pos, y0=[343.3] * len(tss_pos), x1=tss_pos, y1=[366.3] * len(tss_pos),
          line_color="#ff0000", line_width=1)
p.patches([[t, t + FLAG, t] for t in tss_pos], [[343.3, 343.3, 350.0] for _ in tss_pos],
          fill_color="#ff0000", line_color="#ff0000")
p.quad(left=[t - 21 for t in tss_pos], right=tss_pos, top=[362.3] * len(tss_pos),
       bottom=[366.3] * len(tss_pos), fill_color=None, line_color="#ff0000", line_width=1)
txt([t + FLAG for t in tss_pos], [350.0] * len(tss_pos), tss_names, align="left", x_offset=-1)
p.quad(left=term_start, right=term_end, top=[353.3] * len(term_start), bottom=[361.7] * len(term_start),
       fill_color="#ff0000", line_color="#ff0000", line_width=1)
p.segment(x0=term_end, y0=[361.7] * len(term_end), x1=term_end, y1=[366.3] * len(term_end),
          line_color="#ff0000", line_width=1)
txt(term_start, [357.7] * len(term_start), term_names, align="right", x_offset=-1)

# ---- segment bars
p.quad(left=green_seg_start, right=green_seg_end, top=[772.7] * 3, bottom=[783.3] * 3,
       fill_color=BAR_GREEN, line_color=None)
txt([(s + e) / 2 for s, e in zip(green_seg_start, green_seg_end)], [766.3] * 3, green_seg_strand, size="9px")
p.quad(left=blue_seg_start, right=blue_seg_end, top=[1030.0] * 2, bottom=[1041.7] * 2,
       fill_color=BAR_BLUE, line_color=None)
txt([(s + e) / 2 for s, e in zip(blue_seg_start, blue_seg_end)], [1023.3] * 2, blue_seg_strand, size="9px")


# ---- signal panels
def thresholds(rng, vals, color):
    for v in vals:
        p.line([0, SPAN], [v, v], y_range_name=rng, line_color=color, line_width=1.2)


def sig(rng, pos, vals, color, width):
    assert len(pos) == len(vals), (rng, len(pos), len(vals))
    p.line(pos, vals, y_range_name=rng, line_color=color, line_width=width, line_join="round")


thresholds("mu", mu_thresholds, "black")
mu_lines = [mu_l0, mu_l1, mu_l2, mu_l3, mu_l4, mu_l5, mu_l6, mu_l7, mu_l8, mu_l9, mu_l10, mu_l11]
for vals, c in list(zip(mu_lines, MU_COLORS))[::-1]:
    sig("mu", mu_pos, vals, c, 1.4)
thresholds("ml", ml_thresholds, "black")
ml_lines = [ml_l0, ml_l1, ml_l2, ml_l3, ml_l4, ml_l5, ml_l6, ml_l7, ml_l8, ml_l9, ml_l10, ml_l11, ml_l12, ml_l13]
for vals, c in list(zip(ml_lines, ML_COLORS))[::-1]:
    sig("ml", ml_pos, vals, c, 1.4)

pairs = [
    ("gu", gu_pos, gu_black1, gu_black2, gu_green1, gu_green2, GREEN, gu_thresholds),
    ("gl", gl_pos, gl_black1, gl_black2, gl_green1, gl_green2, GREEN, gl_thresholds),
    ("bu", bu_pos, bu_black1, bu_black2, bu_blue1, bu_blue2, BLUE, bu_thresholds),
    ("bl", bl_pos, bl_black1, bl_black2, bl_blue1, bl_blue2, BLUE, bl_thresholds),
    ("ru", ru_pos, ru_black1, ru_black2, ru_red1, ru_red2, RED, ru_thresholds),
    ("rl", rl_pos, rl_black1, rl_black2, rl_red1, rl_red2, RED, rl_thresholds),
    ("yu", yu_pos, yu_black1, yu_black2, yu_yellow1, yu_yellow2, YELLOW, yu_thresholds),
    ("yl", yl_pos, yl_black1, yl_black2, yl_yellow1, yl_yellow2, YELLOW, yl_thresholds),
]
for rng, pos, b1, b2, c1, c2, col, thr in pairs:
    thresholds(rng, thr, BROWN)
    sig(rng, pos, b2, "black", 1.0)
    sig(rng, pos, b1, "black", 1.8)
    sig(rng, pos, c2, col, 1.0)
    sig(rng, pos, c1, col, 1.8)

open("out.html", "w").write(file_html(p, INLINE))
